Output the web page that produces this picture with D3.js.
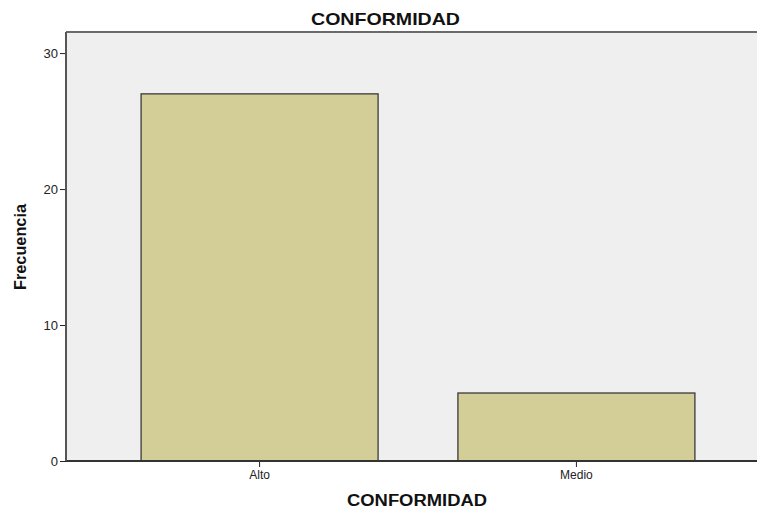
<!DOCTYPE html>
<html><head><meta charset="utf-8">
<script src="https://cdn.jsdelivr.net/npm/d3@7"></script>
<style>body{margin:0;background:#fff}svg{display:block;font-family:"Liberation Sans",Arial,sans-serif}</style>
</head><body><svg id="c" width="757" height="508"></svg>
<script>
const categories = ["Alto", "Medio"];
const values = [27, 5];
const yTicks = [0, 10, 20, 30];
const title = "CONFORMIDAD";
const xTitle = "CONFORMIDAD";
const yTitle = "Frecuencia";

const svg = d3.select("#c");
const L = 66, T = 32, R = 770, B = 461;
const x = d3.scaleBand().domain(categories).range([L, R]).paddingInner(0.252).paddingOuter(0.237);
const y = d3.scaleLinear().domain([0, 31.55]).range([B, T]);

svg.append("rect").attr("x", L).attr("y", T).attr("width", R - L).attr("height", B - T)
  .attr("fill", "#efefef");
svg.append("line").attr("x1", L).attr("x2", R).attr("y1", T).attr("y2", T).attr("stroke", "#6a6a6a").attr("stroke-width", 2);

svg.selectAll(".bar").data(values).enter().append("rect")
  .attr("x", (d, i) => x(categories[i]))
  .attr("y", d => y(d))
  .attr("width", x.bandwidth())
  .attr("height", d => B - y(d))
  .attr("fill", "#d3ce97").attr("stroke", "#3a3a3a").attr("stroke-width", 1.3);

const ya = svg.append("g").attr("transform", `translate(${L},0)`)
  .call(d3.axisLeft(y).tickValues(yTicks).tickSize(6).tickPadding(2).tickFormat(d3.format("d")));
ya.select(".domain").remove();
ya.selectAll("text").attr("font-size", 13).attr("fill", "#222").attr("font-family", "Liberation Sans, Arial, sans-serif");
ya.selectAll("line").attr("stroke", "#222");

const xa = svg.append("g").attr("transform", `translate(0,${B})`)
  .call(d3.axisBottom(x).tickSize(6).tickPadding(3));
xa.select(".domain").remove();
xa.selectAll("text").attr("font-size", 12).attr("fill", "#222").attr("font-family", "Liberation Sans, Arial, sans-serif");
xa.selectAll("line").attr("stroke", "#222");

svg.append("line").attr("x1", L).attr("x2", R).attr("y1", B).attr("y2", B).attr("stroke", "#333").attr("stroke-width", 2);
svg.append("line").attr("x1", L).attr("x2", L).attr("y1", T).attr("y2", B).attr("stroke", "#555").attr("stroke-width", 2);

svg.append("text").attr("x", 311).attr("y", 25)
  .attr("font-size", 17).attr("font-weight", "bold").attr("fill", "#111")
  .attr("textLength", 149).attr("lengthAdjust", "spacingAndGlyphs").text(title);
svg.append("text").attr("x", 347).attr("y", 506)
  .attr("font-size", 16).attr("font-weight", "bold").attr("fill", "#111")
  .attr("textLength", 140).attr("lengthAdjust", "spacingAndGlyphs").text(xTitle);
svg.append("text").attr("transform", `translate(26,290) rotate(-90)`)
  .attr("font-size", 16).attr("font-weight", "bold").attr("fill", "#111")
  .attr("textLength", 86).attr("lengthAdjust", "spacingAndGlyphs").text(yTitle);
</script></body></html>
